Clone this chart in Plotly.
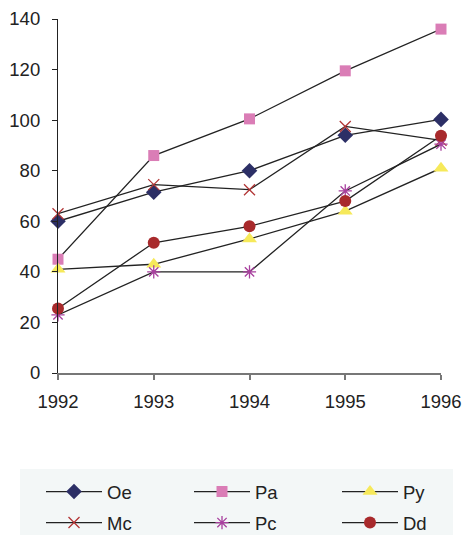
import plotly.graph_objects as go

years = [1992, 1993, 1994, 1995, 1996]
oe = [60, 71.5, 80, 94, 100.3]
pa = [45, 86, 100.5, 119.5, 136]
py = [41, 43, 53, 64, 81]
mc = [63, 74.5, 72.5, 97.5, 92]
pc = [23, 40, 40, 72, 90.5]
dd = [25.5, 51.5, 58, 68, 93.8]

series = [
    ("Oe", oe, dict(symbol="diamond", size=12, color="#2C2F66"), "legend"),
    ("Pa", pa, dict(symbol="square", size=11, color="#DA7DB6"), "legend"),
    ("Py", py, dict(symbol="triangle-up", size=13, color="#F6E95A"), "legend"),
    ("Mc", mc, dict(symbol="x-thin", size=11, color="#B23636", line=dict(width=1.3, color="#B23636")), "legend2"),
    ("Pc", pc, dict(symbol="asterisk", size=11, color="#A8409E", line=dict(width=1.3, color="#A8409E")), "legend2"),
    ("Dd", dd, dict(symbol="circle", size=12, color="#A82A2C"), "legend2"),
]

fig = go.Figure()
for name, vals, mk, lg in series:
    fig.add_trace(go.Scatter(
        x=years, y=vals, name=name, mode="lines+markers",
        line=dict(color="#222222", width=1.3),
        marker=mk, cliponaxis=False, legend=lg,
    ))

font = dict(family="Liberation Sans, Arial, sans-serif", size=18.5, color="#222222")

W, H = 465, 535
L, R, T, B = 58, 24, 19, 162
pw, ph = W - L - R, H - T - B


def px_x(v):
    return (v - L) / pw


def px_y(v):
    return (T + ph - v) / ph


def legend_row(row_y):
    return dict(
        orientation="h",
        x=px_x(41), y=px_y(row_y),
        xanchor="left", yanchor="middle",
        bgcolor="rgba(0,0,0,0)",
        entrywidth=77, entrywidthmode="pixels",
        itemwidth=56,
        font=font,
        traceorder="normal",
    )


fig.update_layout(
    width=W, height=H,
    margin=dict(l=L, r=R, t=T, b=B, autoexpand=False),
    paper_bgcolor="white", plot_bgcolor="white",
    font=font,
    showlegend=True,
    legend=legend_row(492),
    legend2=legend_row(523),
    shapes=[dict(
        type="rect", xref="paper", yref="paper", layer="below",
        x0=px_x(20), x1=px_x(453), y0=px_y(535), y1=px_y(469),
        fillcolor="#F3F7F7", line=dict(width=0),
    )],
    xaxis=dict(
        range=[1992, 1996], tickvals=years, ticktext=[str(y) for y in years],
        showgrid=False, zeroline=False, showline=True, linecolor="#777777", linewidth=1.5,
        ticks="outside", ticklen=5, tickcolor="#777777", tickwidth=1.5,
        ticklabelstandoff=6,
    ),
    yaxis=dict(
        range=[0, 140], tickvals=[0, 20, 40, 60, 80, 100, 120, 140],
        showgrid=False, zeroline=False, showline=True, linecolor="#222222", linewidth=1.2,
        ticks="outside", ticklen=5, tickcolor="#222222", tickwidth=1.2,
        ticklabelstandoff=8,
    ),
)

fig.write_html("out.html")
